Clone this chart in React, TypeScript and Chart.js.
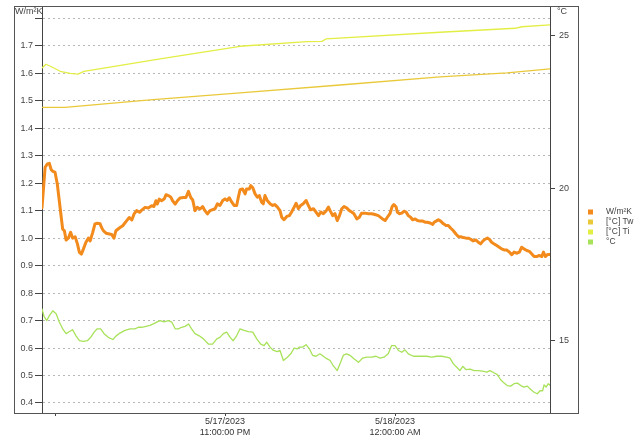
import React, { useEffect, useRef } from 'react';
import { Chart, registerables } from 'chart.js';

Chart.register(...registerables);

const FONT = '"Liberation Sans", Arial, sans-serif';

// x values: minutes after 5/17/2023 10:00:00 PM
const xTickValues = [0, 60, 120];
const xTickLabels: string[][] = [[], ['5/17/2023', '11:00:00 PM'], ['5/18/2023', '12:00:00 AM']];
const leftTicks = [0.4, 0.5, 0.6, 0.7, 0.8, 0.9, 1.0, 1.1, 1.2, 1.3, 1.4, 1.5, 1.6, 1.7, 1.8];
const rightTicks = [15, 20, 25];

const seriesNames = ['W/m²K', '[°C] Tw', '[°C] Ti', '°C'];
const seriesColors = ['#f28a1c', '#e9c93a', '#e3ee45', '#a8e25a'];

// W/m²K
const uMinutes = [
  -4.6, -3.5, -2.7, -2.0, -1.4, -0.8, 0.0, 0.8, 1.5, 2.2, 2.7, 3.3, 3.9, 4.7, 5.5, 6.2, 7.1, 7.9, 8.6, 9.3,
  10.0, 10.9, 11.8, 12.4, 13.3, 14.1, 14.9, 15.9, 16.5, 17.1, 18.0, 19.2, 20.0, 20.8, 21.5, 22.7, 23.9, 25.1, 26.2, 27.1,
  27.9, 28.8, 29.8, 30.6, 31.8, 32.9, 34.1, 34.9, 35.6, 36.1, 36.8, 37.6, 38.5, 39.2, 40.0, 40.8, 41.5, 42.4, 43.2, 44.1,
  45.3, 46.2, 47.1, 47.9, 48.6, 49.4, 50.2, 51.2, 52.1, 52.9, 53.8, 54.7,
  56.5, 57.3, 58.2, 59.2, 60.0, 60.8, 61.5, 62.4, 63.2, 64.1, 64.7, 65.3, 66.2, 67.1, 67.6, 68.6, 69.1, 69.8, 70.6, 71.4,
  72.1, 72.9, 73.5, 74.1, 74.9, 75.9, 76.8, 77.6, 78.5, 79.4, 80.0, 80.8, 81.8, 82.7, 83.5, 84.4, 85.1, 85.9, 86.7, 87.6,
  88.6, 89.4, 90.2, 91.2, 92.1, 93.0, 93.8, 94.7, 95.6, 96.5, 97.1, 98.0, 98.8, 99.6, 100.4, 101.2, 102.0, 102.9, 103.9, 104.7,
  105.5, 106.5, 107.4, 108.2, 109.4, 110.6, 111.8, 112.9, 114.1,
  115.6, 116.5, 117.3, 118.2, 119.0, 119.6, 120.4, 120.8, 121.5, 122.4, 123.2, 123.9, 124.7, 125.5, 126.2, 127.1, 127.9, 128.8, 129.8, 130.6,
  131.4, 132.4, 133.3, 133.8, 134.5, 135.3, 136.1, 137.1, 138.0, 138.8, 139.6, 140.6, 141.5, 142.4, 143.2, 144.1, 145.1, 145.9, 146.7, 147.6,
  148.6, 149.4, 150.2, 151.0, 151.8, 152.6, 153.3, 154.1, 155.0, 155.9, 156.8, 157.6, 158.5, 159.4, 160.4, 161.2, 162.0, 162.9, 163.9, 164.7,
  165.5, 166.5, 167.4, 168.2, 169.1, 170.0, 170.9, 171.8, 172.4, 173.1, 173.8, 174.7,
];
const uValues = [
  1.11, 1.258, 1.27, 1.272, 1.25, 1.243, 1.24, 1.197, 1.136, 1.075, 1.033, 1.027, 0.993, 1.0, 1.021, 1.0, 1.005, 0.979, 0.948, 0.942,
  0.96, 0.985, 1.0, 0.99, 1.021, 1.052, 1.054, 1.052, 1.037, 1.027, 1.018, 1.015, 1.013, 1.0, 1.027, 1.037, 1.045, 1.061, 1.075, 1.066,
  1.088, 1.1, 1.094, 1.102, 1.112, 1.11, 1.118, 1.115, 1.136, 1.124, 1.142, 1.136, 1.142, 1.158, 1.155, 1.15, 1.136, 1.124, 1.136, 1.146,
  1.148, 1.148, 1.17, 1.148, 1.139, 1.1, 1.112, 1.106, 1.115, 1.1, 1.088, 1.1,
  1.107, 1.125, 1.119, 1.137, 1.143, 1.137, 1.147, 1.131, 1.119, 1.119, 1.149, 1.176, 1.179, 1.161, 1.179, 1.179, 1.191, 1.183, 1.161, 1.149,
  1.155, 1.131, 1.125, 1.155, 1.137, 1.125, 1.119, 1.122, 1.113, 1.1, 1.076, 1.067, 1.079, 1.082, 1.095, 1.113, 1.127, 1.107, 1.119, 1.125,
  1.137, 1.119, 1.103, 1.107, 1.095, 1.082, 1.095, 1.089, 1.098, 1.113, 1.1, 1.082, 1.089, 1.064, 1.082, 1.107, 1.115, 1.11, 1.1, 1.095,
  1.089, 1.07, 1.076, 1.091, 1.091, 1.089, 1.089, 1.086, 1.082,
  1.07, 1.064, 1.076, 1.089, 1.115, 1.122, 1.113, 1.095, 1.089, 1.091, 1.098, 1.095, 1.082, 1.076, 1.067, 1.07, 1.064, 1.062, 1.062, 1.058,
  1.058, 1.055, 1.05, 1.058, 1.062, 1.067, 1.062, 1.052, 1.046, 1.046, 1.037, 1.027, 1.015, 1.005, 1.005, 1.002, 1.0, 1.0, 0.996, 0.99,
  0.993, 0.985, 0.979, 0.989, 0.996, 1.0, 0.996, 0.985, 0.979, 0.973, 0.967, 0.961, 0.957, 0.957, 0.949, 0.94, 0.949, 0.945, 0.949, 0.967,
  0.961, 0.955, 0.952, 0.943, 0.933, 0.933, 0.937, 0.933, 0.949, 0.933, 0.94, 0.94,
];

// [°C] Tw
const twMinutes = [-4.6, 3.5, 33.5, 65.3, 100.6, 135.9, 159.5, 174.7];
const twValues = [22.66, 22.66, 22.9, 23.13, 23.39, 23.66, 23.79, 23.92];

// [°C] Ti
const tiMinutes = [-4.6, -3.2, -1.1, 1.8, 5.3, 8.1, 10.2, 37.1, 65.3, 88.9, 94.2, 95.6, 135.9, 162.4, 164.8, 174.7];
const tiValues = [23.95, 24.07, 23.98, 23.84, 23.77, 23.75, 23.84, 24.25, 24.66, 24.81, 24.82, 24.9, 25.12, 25.25, 25.3, 25.36];

// °C
const tMinutes = [
  -4.6, -3.9, -2.9, -2.0, -0.8, 0.4, 1.5, 2.7, 3.9, 5.1, 6.2, 7.4, 8.6, 10.0, 11.4, 12.6, 13.8, 14.9, 16.1, 17.3,
  18.8, 20.4, 21.5, 22.9, 24.7, 26.5, 28.2, 29.4, 30.6, 32.1, 33.5, 34.7, 35.9, 37.1, 38.5, 40.0, 41.2, 42.4, 43.5, 44.7,
  45.9, 47.1, 48.2, 49.4, 50.9, 52.4, 54.1, 55.6, 57.1, 58.2, 59.4, 60.6, 61.8, 62.9, 64.1, 65.3, 66.7, 68.2, 69.8, 71.2,
  72.6, 73.8, 74.7, 75.9, 77.1, 78.5, 79.4, 80.6, 82.0, 83.2, 84.4, 85.5,
  86.2, 87.4, 88.6, 89.8, 90.9, 92.1, 93.5, 94.7, 95.9, 97.1, 98.2, 99.6, 100.8, 101.8, 102.9, 104.1, 105.5, 107.1, 108.6, 110.0,
  111.8, 113.3, 114.7, 116.1, 117.6, 118.8, 120.0, 121.2, 122.4, 123.5, 124.7, 126.5, 128.8, 131.2, 132.9, 134.7, 136.5, 138.2, 139.4, 140.6,
  141.8, 142.9, 143.9, 145.1, 146.5, 147.9, 149.4, 150.9, 152.4, 153.5, 154.9, 156.1, 157.3, 158.5, 159.6, 160.8, 162.0, 163.2, 164.4, 165.5,
  166.7, 167.9, 169.1, 170.2, 171.2, 172.1, 172.6, 173.3, 174.1, 174.7,
];
const tValues = [
  16.05, 15.81, 15.67, 15.83, 15.99, 15.89, 15.62, 15.4, 15.24, 15.31, 15.37, 15.17, 15.01, 14.99, 15.01, 15.12, 15.29, 15.4, 15.4, 15.24,
  15.12, 15.05, 15.16, 15.26, 15.35, 15.4, 15.4, 15.45, 15.45, 15.48, 15.51, 15.56, 15.62, 15.67, 15.63, 15.67, 15.62, 15.4, 15.4, 15.45,
  15.48, 15.56, 15.4, 15.24, 15.17, 15.07, 14.9, 14.9, 15.07, 15.12, 15.24, 15.29, 15.12, 15.01, 15.17, 15.4, 15.35, 15.31, 15.29, 15.07,
  14.9, 14.85, 14.96, 14.8, 14.69, 14.65, 14.69, 14.36, 14.47, 14.58, 14.77, 14.74,
  14.8, 14.8, 14.88, 14.74, 14.53, 14.5, 14.58, 14.5, 14.42, 14.36, 14.19, 14.03, 14.3, 14.54, 14.58, 14.53, 14.42, 14.3, 14.44, 14.47,
  14.47, 14.5, 14.44, 14.47, 14.58, 14.85, 14.85, 14.69, 14.63, 14.71, 14.58, 14.5, 14.5, 14.5, 14.47, 14.5, 14.5, 14.47, 14.44, 14.25,
  14.14, 14.03, 14.17, 14.06, 14.08, 14.03, 14.03, 14.01, 13.98, 14.03, 13.96, 13.9, 13.73, 13.62, 13.54, 13.52, 13.6, 13.62, 13.54, 13.49,
  13.52, 13.41, 13.32, 13.27, 13.37, 13.37, 13.56, 13.49, 13.6, 13.55,
];

const pts = (xs: number[], ys: number[]) => xs.map((x, i) => ({ x, y: ys[i] }));

const decorPlugin = {
  id: 'decor',
  beforeDraw(chart: any) {
    const ctx = chart.ctx;
    ctx.save();
    ctx.fillStyle = '#ffffff';
    ctx.fillRect(0, 0, chart.width, chart.height);
    ctx.restore();
  },
  afterDraw(chart: any) {
    const ctx = chart.ctx;
    const a = chart.chartArea;
    ctx.save();
    // outer frame
    ctx.strokeStyle = '#555555';
    ctx.lineWidth = 1;
    ctx.strokeRect(a.left - 27.5, a.top + 0.5, a.right - a.left + 56, a.bottom - a.top);
    // axis unit titles
    ctx.font = `9px ${FONT}`;
    ctx.fillStyle = '#444444';
    ctx.textBaseline = 'middle';
    ctx.textAlign = 'left';
    ctx.fillText('W/m²K', a.left - 27, a.top + 6);
    ctx.fillText('°C', a.right + 7, a.top + 6);
    // legend
    ctx.font = `8.5px ${FONT}`;
    chart.data.datasets.forEach((ds: any, i: number) => {
      const y = 212 + i * 10;
      ctx.fillStyle = ds.borderColor;
      ctx.fillRect(588, y - 2.5, 5, 5);
      ctx.fillStyle = '#444444';
      ctx.fillText(ds.label, 606, y);
    });
    ctx.restore();
  },
};

export default function App() {
  const ref = useRef<HTMLCanvasElement>(null);
  useEffect(() => {
    const tickFont = { family: FONT, size: 9 };
    const chart = new Chart(ref.current as HTMLCanvasElement, {
      type: 'line',
      data: {
        datasets: [
          {
            label: seriesNames[0],
            data: pts(uMinutes, uValues),
            borderColor: seriesColors[0],
            borderWidth: 3,
            yAxisID: 'y',
          },
          {
            label: seriesNames[1],
            data: pts(twMinutes, twValues),
            borderColor: seriesColors[1],
            borderWidth: 1.3,
            yAxisID: 'y1',
          },
          {
            label: seriesNames[2],
            data: pts(tiMinutes, tiValues),
            borderColor: seriesColors[2],
            borderWidth: 1.3,
            yAxisID: 'y1',
          },
          {
            label: seriesNames[3],
            data: pts(tMinutes, tValues),
            borderColor: seriesColors[3],
            borderWidth: 1.3,
            yAxisID: 'y1',
          },
        ],
      },
      options: {
        animation: false,
        responsive: true,
        maintainAspectRatio: false,
        layout: { padding: { left: 14, right: 62, top: 6, bottom: 0 } },
        elements: {
          point: { radius: 0, hoverRadius: 0 },
          line: { tension: 0, borderJoinStyle: 'round', borderCapStyle: 'round', fill: false },
        },
        plugins: { legend: { display: false }, tooltip: { enabled: false }, title: { display: false } },
        scales: {
          x: {
            type: 'linear',
            min: -4.6,
            max: 174.7,
            afterBuildTicks: (s: any) => {
              s.ticks = xTickValues.map((v) => ({ value: v }));
            },
            afterFit: (s: any) => {
              s.height = 28;
              s.paddingLeft = 0;
              s.paddingRight = 0;
            },
            ticks: {
              autoSkip: false,
              maxRotation: 0,
              padding: 0,
              color: '#333333',
              font: tickFont,
              callback: (v: any) => {
                const i = xTickValues.indexOf(Number(v));
                return i >= 0 ? xTickLabels[i] : '';
              },
            },
            grid: { drawOnChartArea: false, drawTicks: true, tickLength: 3, tickColor: '#444444' },
            border: { display: true, color: '#444444', width: 1 },
          },
          y: {
            type: 'linear',
            position: 'left',
            min: 0.3636,
            max: 1.8448,
            afterBuildTicks: (s: any) => {
              s.ticks = leftTicks.map((v) => ({ value: v }));
            },
            afterFit: (s: any) => {
              s.width = 28;
              s.paddingTop = 0;
              s.paddingBottom = 0;
            },
            ticks: {
              padding: 2,
              color: '#444444',
              font: tickFont,
              callback: (v: any) => (Number(v) >= 1.79 ? '' : Number(v).toFixed(1)),
            },
            grid: {
              color: '#b8b8b8',
              lineWidth: 1,
              tickLength: 7,
              tickColor: '#444444',
              tickBorderDash: [],
            },
            border: { display: true, color: '#444444', width: 1, dash: [2, 3] },
          },
          y1: {
            type: 'linear',
            position: 'right',
            min: 12.64,
            max: 25.98,
            afterBuildTicks: (s: any) => {
              s.ticks = rightTicks.map((v) => ({ value: v }));
            },
            afterFit: (s: any) => {
              s.width = 29;
              s.paddingTop = 0;
              s.paddingBottom = 0;
            },
            ticks: { padding: 4, color: '#444444', font: tickFont },
            grid: { drawOnChartArea: false, tickLength: 5, tickColor: '#444444' },
            border: { display: true, color: '#444444', width: 1 },
          },
        },
      } as any,
      plugins: [decorPlugin],
    });
    return () => chart.destroy();
  }, []);

  return (
    <div style={{ position: 'fixed', left: 0, top: 0, width: 641, height: 441, background: '#ffffff' }}>
      <canvas ref={ref} />
    </div>
  );
}
